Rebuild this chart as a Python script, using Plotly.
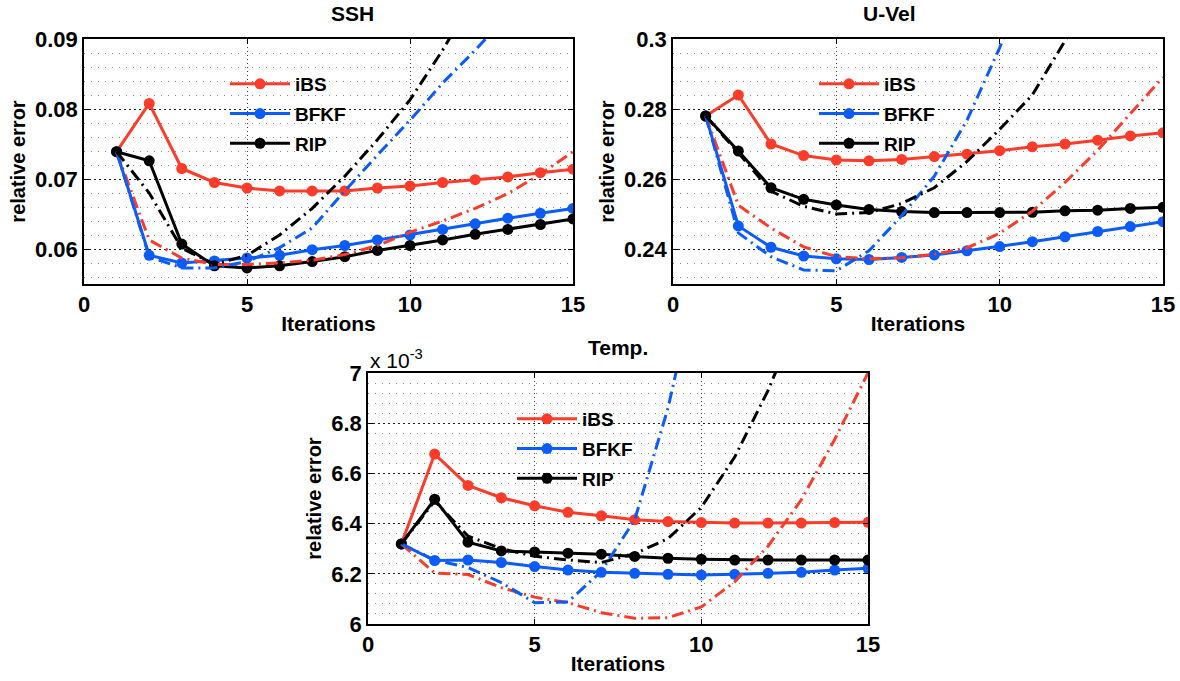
import plotly.graph_objects as go

iters = list(range(1, 16))

# SSH panel
ssh_ibs = [0.0739, 0.0808, 0.0715, 0.0695, 0.0687, 0.0683, 0.0683, 0.0683, 0.0687, 0.0690, 0.0695, 0.0699, 0.0703, 0.0709, 0.0714]
ssh_bfkf = [0.0739, 0.0591, 0.0580, 0.0583, 0.0587, 0.0591, 0.0599, 0.0605, 0.0613, 0.0620, 0.0628, 0.0636, 0.0644, 0.0651, 0.0658]
ssh_rip = [0.0739, 0.0726, 0.0607, 0.0576, 0.0573, 0.0576, 0.0582, 0.0589, 0.0598, 0.0605, 0.0613, 0.0621, 0.0628, 0.0635, 0.0643]
ssh_ibs_dd = [0.0739, 0.0613, 0.0587, 0.0578, 0.0578, 0.0580, 0.0584, 0.0592, 0.0605, 0.0624, 0.0640, 0.0658, 0.0679, 0.0707, 0.0739]
ssh_bfkf_dd = [0.0739, 0.0589, 0.0573, 0.0573, 0.0582, 0.0602, 0.0630, 0.0683, 0.0734, 0.0784, 0.0837, 0.0884, 0.0935, 0.0990, 0.1050]
ssh_rip_dd = [0.0739, 0.0680, 0.0601, 0.0578, 0.0591, 0.0620, 0.0658, 0.0704, 0.0756, 0.0813, 0.0884, 0.0960, 0.1040, 0.1120, 0.1200]

# U-Vel panel
uvel_ibs = [0.2780, 0.2840, 0.2700, 0.2667, 0.2654, 0.2652, 0.2656, 0.2664, 0.2671, 0.2681, 0.2692, 0.2700, 0.2711, 0.2723, 0.2732]
uvel_bfkf = [0.2780, 0.2466, 0.2405, 0.2380, 0.2372, 0.2370, 0.2376, 0.2383, 0.2395, 0.2407, 0.2421, 0.2435, 0.2450, 0.2464, 0.2478]
uvel_rip = [0.2780, 0.2680, 0.2575, 0.2542, 0.2526, 0.2513, 0.2507, 0.2504, 0.2504, 0.2504, 0.2505, 0.2509, 0.2511, 0.2516, 0.2519]
uvel_ibs_dd = [0.2780, 0.2525, 0.2460, 0.2406, 0.2378, 0.2372, 0.2375, 0.2385, 0.2403, 0.2445, 0.2508, 0.2590, 0.2682, 0.2787, 0.2891]
uvel_bfkf_dd = [0.2780, 0.2446, 0.2378, 0.2340, 0.2338, 0.2395, 0.2495, 0.2608, 0.2768, 0.2975, 0.3210, 0.3500, 0.3800, 0.4100, 0.4400]
uvel_rip_dd = [0.2780, 0.2675, 0.2565, 0.2522, 0.2500, 0.2504, 0.2530, 0.2575, 0.2650, 0.2742, 0.2840, 0.2990, 0.3150, 0.3320, 0.3500]

# Temp panel (values in units of 1e-3)
temp_ibs = [6.319, 6.677, 6.552, 6.503, 6.471, 6.445, 6.431, 6.415, 6.408, 6.404, 6.402, 6.402, 6.402, 6.404, 6.405]
temp_bfkf = [6.319, 6.253, 6.255, 6.245, 6.229, 6.215, 6.206, 6.202, 6.198, 6.195, 6.198, 6.202, 6.206, 6.215, 6.222]
temp_rip = [6.319, 6.497, 6.326, 6.291, 6.287, 6.282, 6.278, 6.269, 6.262, 6.258, 6.255, 6.255, 6.255, 6.255, 6.255]
temp_ibs_dd = [6.319, 6.203, 6.197, 6.145, 6.107, 6.085, 6.045, 6.023, 6.025, 6.068, 6.168, 6.310, 6.495, 6.735, 7.000]
temp_bfkf_dd = [6.319, 6.255, 6.225, 6.165, 6.085, 6.088, 6.210, 6.415, 6.860, 7.400, 8.000, 8.600, 9.200, 9.800, 10.40]
temp_rip_dd = [6.319, 6.490, 6.350, 6.300, 6.270, 6.255, 6.245, 6.280, 6.340, 6.465, 6.665, 6.930, 7.250, 7.600, 8.000]

names = ["iBS", "BFKF", "RIP"]
colors = ["#FF3B2A", "#0A5CFF", "#000000"]

panels = [
    ("SSH", [ssh_ibs, ssh_bfkf, ssh_rip], [ssh_ibs_dd, ssh_bfkf_dd, ssh_rip_dd]),
    ("U-Vel", [uvel_ibs, uvel_bfkf, uvel_rip], [uvel_ibs_dd, uvel_bfkf_dd, uvel_rip_dd]),
    ("Temp.", [temp_ibs, temp_bfkf, temp_rip], [temp_ibs_dd, temp_bfkf_dd, temp_rip_dd]),
]

W, H = 1180, 681
# axes boxes in pixels: left, right, top, bottom
boxes = [(84, 573, 39, 284), (673, 1163, 39, 284), (368, 868, 373, 624)]
yranges = [[0.055, 0.09], [0.23, 0.30], [6.0, 7.0]]
ydticks = [0.01, 0.02, 0.2]
yminor = [0.002, 0.004, 0.04]
legend_pos = [(225, 65), (814, 65), (512, 400)]

FONT = "Liberation Sans"
fig = go.Figure()

for k, (title, solids, dds) in enumerate(panels):
    sfx = "" if k == 0 else str(k + 1)
    leg = "legend" + sfx
    for name, col, ys in zip(names, colors, solids):
        fig.add_trace(go.Scatter(
            x=iters, y=ys, mode="lines+markers", name=name,
            line=dict(color=col, width=3), marker=dict(size=11, color=col),
            xaxis="x" + sfx, yaxis="y" + sfx, legend=leg, legendgroup=f"{k}{name}",
        ))
    for name, col, ys in zip(names, colors, dds):
        fig.add_trace(go.Scatter(
            x=iters, y=ys, mode="lines", showlegend=False,
            line=dict(color=col, width=3, dash="12px,5px,2px,5px"),
            xaxis="x" + sfx, yaxis="y" + sfx
        ))

    l, r, t, b = boxes[k]
    axis_common = dict(
        showline=True, linecolor="black", linewidth=1.5, mirror="allticks",
        ticks="inside", ticklen=5, tickcolor="black", zeroline=False,
        automargin=False,
        tickfont=dict(family=FONT, size=22, color="black", weight="bold"),
    )
    fig.layout["xaxis" + sfx] = dict(
        domain=[l / W, r / W], anchor="y" + sfx, range=[0, 15],
        tickvals=[0, 5, 10, 15], showgrid=True, gridcolor="#444",
        griddash="1px,3px", gridwidth=1,
        title=dict(text="Iterations", standoff=0,
                   font=dict(family=FONT, size=21, color="black", weight="bold")),
        **axis_common
    )
    fig.layout["yaxis" + sfx] = dict(
        domain=[1 - b / H, 1 - t / H], anchor="x" + sfx, range=yranges[k],
        dtick=ydticks[k], tick0=0, showgrid=True, gridcolor="#222",
        griddash="2px,3px", gridwidth=1,
        minor=dict(dtick=yminor[k], tick0=0, showgrid=True, gridcolor="#888",
                   griddash="1px,6px", gridwidth=1, ticks=""),
        title=dict(text="relative error", standoff=4,
                   font=dict(family=FONT, size=20, color="black", weight="bold")),
        **axis_common
    )
    lx, ly = legend_pos[k]
    fig.layout[leg] = dict(
        x=lx / W, y=1 - ly / H, xanchor="left", yanchor="top",
        bgcolor="rgba(0,0,0,0)", borderwidth=0, itemwidth=60,
        tracegroupgap=2,
        font=dict(family=FONT, size=19, color="black", weight="bold"),
    )
    fig.add_annotation(
        x=(l + r) / 2 / W, y=1 - (t - 26) / H, xref="paper", yref="paper",
        text=title, showarrow=False, yanchor="middle",
        font=dict(family=FONT, size=21, color="black", weight="bold"),
    )

fig.add_annotation(
    x=368 / W, y=1 - 359 / H, xref="paper", yref="paper", xanchor="left",
    yanchor="middle", text="x 10<sup>-3</sup>", showarrow=False,
    font=dict(family=FONT, size=21, color="black"),
)

fig.update_layout(
    template="none",
    width=W, height=H, margin=dict(l=0, r=0, t=0, b=0, autoexpand=False),
    plot_bgcolor="white", paper_bgcolor="white",
    font=dict(family=FONT, color="black"),
)

fig.write_html("out.html", config={"displayModeBar": False},
               post_script="document.body.style.margin='0';")
